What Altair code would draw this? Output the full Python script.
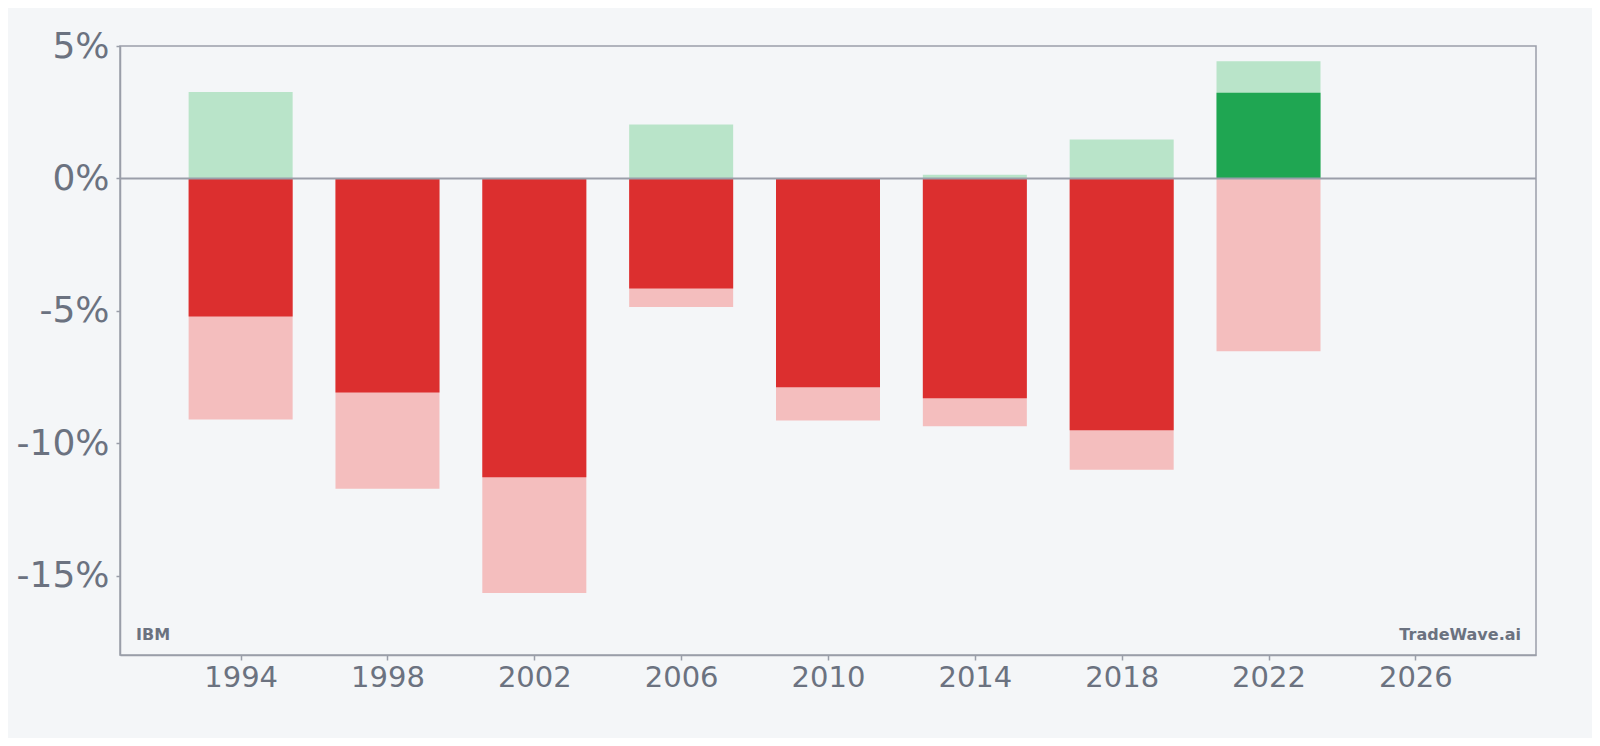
import altair as alt
import pandas as pd

years = [1994, 1998, 2002, 2006, 2010, 2014, 2018, 2022]
ret = [-5.22, -8.09, -11.29, -4.16, -7.89, -8.30, -9.51, 3.23]
max_up = [3.26, 0.0, 0.0, 2.04, 0.0, 0.14, 1.47, 4.42]
max_dn = [-9.11, -11.72, -15.66, -4.86, -9.14, -9.36, -11.00, -6.53]
x_ticks = [1994, 1998, 2002, 2006, 2010, 2014, 2018, 2022, 2026]
y_ticks = [-15, -10, -5, 0, 5]

df = pd.DataFrame({"year": years, "ret": ret, "up": max_up, "dn": max_dn})
df["zero"] = 0.0
df["sign"] = ["pos" if r >= 0 else "neg" for r in ret]

TXT = "#6b7280"
AX = "#9a9ea9"
BG = "#f4f6f8"
W, H = 1416, 609
BW = 104

xs = alt.Scale(domain=[1990.85, 2029.15], nice=False, zero=False)
ys = alt.Scale(domain=[-18, 5], nice=False)

xax = alt.Axis(values=x_ticks, format="d", grid=False, labelFontSize=29, labelColor=TXT,
               labelFont="DejaVu Sans", tickColor=AX, domainColor=AX, domainWidth=1.5,
               tickWidth=1.5, tickSize=5, labelPadding=3, title=None)
yax = alt.Axis(values=y_ticks, labelExpr="datum.value + '%'", grid=False, labelFontSize=36,
               labelColor=TXT, labelFont="DejaVu Sans", tickColor=AX, domainColor=AX,
               domainWidth=1.5, tickWidth=1.5, tickSize=4, labelPadding=7, title=None)

base = alt.Chart(df)

up_bar = base.mark_bar(size=BW, color="#b9e4c9").encode(
    x=alt.X("year:Q", scale=xs, axis=xax),
    y=alt.Y("zero:Q", scale=ys, axis=yax),
    y2="up:Q",
)
dn_bar = base.mark_bar(size=BW, color="#f4bebe").encode(
    x=alt.X("year:Q", scale=xs),
    y=alt.Y("zero:Q", scale=ys),
    y2="dn:Q",
)
ret_bar = base.mark_bar(size=BW).encode(
    x=alt.X("year:Q", scale=xs),
    y=alt.Y("zero:Q", scale=ys),
    y2="ret:Q",
    color=alt.Color("sign:N", scale=alt.Scale(domain=["pos", "neg"], range=["#1fa652", "#dc2f2f"]),
                    legend=None),
)
zero_rule = alt.Chart(pd.DataFrame({"v": [0.0]})).mark_rule(color=AX, strokeWidth=2).encode(
    y=alt.Y("v:Q", scale=ys)
)
lbl_l = alt.Chart(pd.DataFrame({"t": ["IBM"]})).mark_text(
    align="left", baseline="alphabetic", fontSize=16, fontWeight="bold", color=TXT,
    font="DejaVu Sans"
).encode(text="t:N", x=alt.value(16), y=alt.value(H - 15))
lbl_r = alt.Chart(pd.DataFrame({"t": ["TradeWave.ai"]})).mark_text(
    align="right", baseline="alphabetic", fontSize=16, fontWeight="bold", color=TXT,
    font="DejaVu Sans"
).encode(text="t:N", x=alt.value(W - 15), y=alt.value(H - 15))

chart = alt.layer(up_bar, dn_bar, ret_bar, zero_rule, lbl_l, lbl_r).properties(
    width=W, height=H,
    background=BG,
    padding={"left": 112, "top": 38, "right": 56, "bottom": 83},
    autosize=alt.AutoSizeParams(type="none"),
).configure_view(stroke=AX, strokeWidth=1.5)

chart.save("out.html", embed_options={"renderer": "svg", "actions": False})
